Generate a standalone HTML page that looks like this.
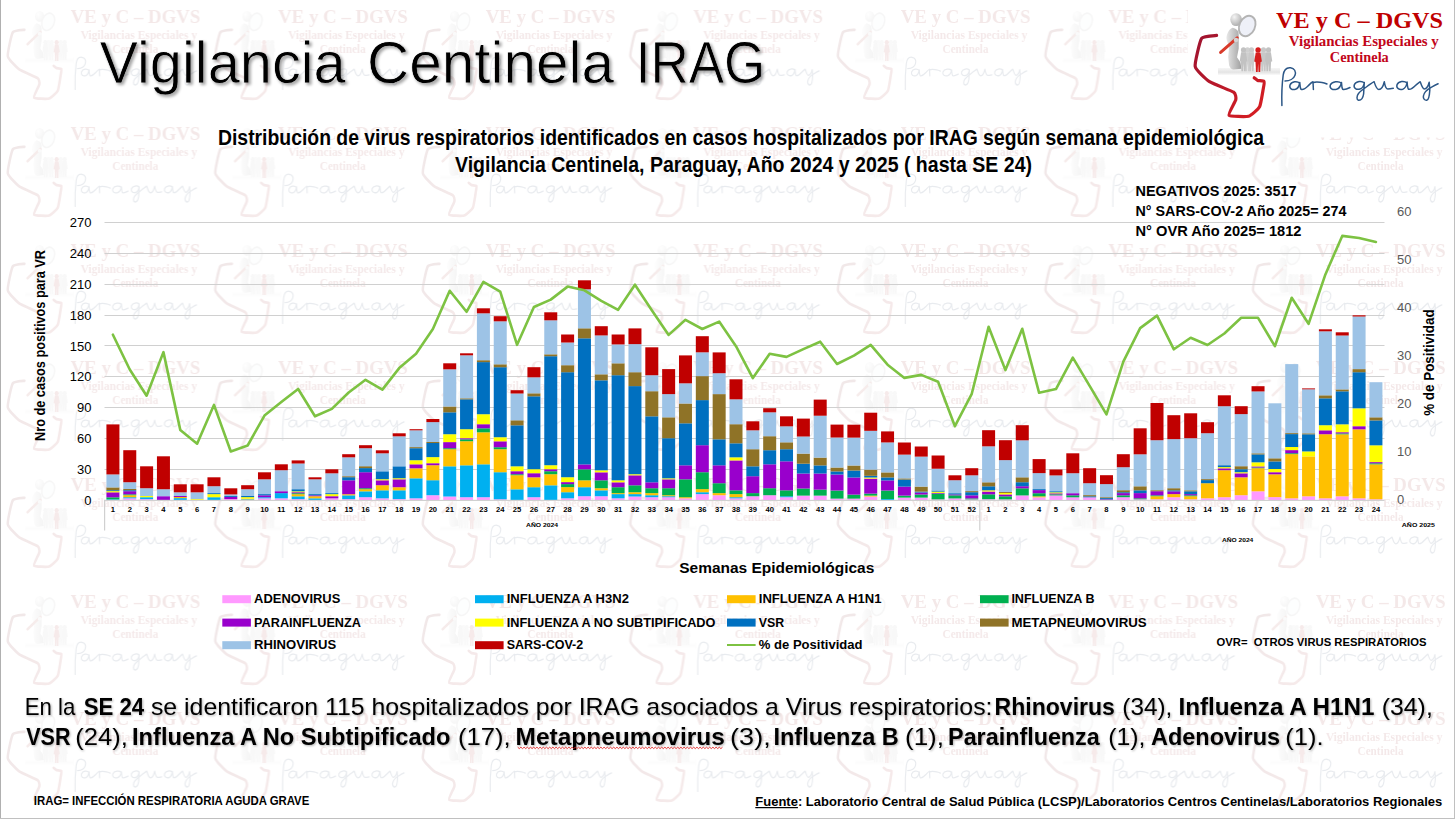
<!DOCTYPE html><html><head><meta charset="utf-8"><title>Vigilancia Centinela IRAG</title><style>
html,body{margin:0;padding:0;width:1455px;height:819px;overflow:hidden;background:#fff}
svg{position:absolute;left:0;top:0;display:block;font-family:"Liberation Sans",sans-serif}
</style></head><body>
<svg width="1455" height="819" viewBox="0 0 1455 819" font-family="Liberation Sans, sans-serif">
<defs>
<linearGradient id="mapg" x1="0" y1="0" x2="1" y2="1"><stop offset="0" stop-color="#9e1430"/><stop offset="1" stop-color="#d91e22"/></linearGradient>
<linearGradient id="figg" x1="0" y1="0" x2="1" y2="0"><stop offset="0" stop-color="#e8e8e8"/><stop offset="1" stop-color="#a0a0a0"/></linearGradient>
<radialGradient id="headg" cx="0.35" cy="0.3" r="0.8"><stop offset="0" stop-color="#f4f4f4"/><stop offset="1" stop-color="#a8a8a8"/></radialGradient>
<linearGradient id="gnd" x1="0" y1="0" x2="0" y2="1"><stop offset="0" stop-color="#f6f6f6"/><stop offset="0.6" stop-color="#e4e4e4"/><stop offset="1" stop-color="#fafafa"/></linearGradient>
<filter id="desat"><feColorMatrix type="saturate" values="0.55"/></filter>
<filter id="tsh" x="-5%" y="-20%" width="110%" height="150%"><feDropShadow dx="2" dy="2" stdDeviation="1.6" flood-color="#000" flood-opacity="0.35"/></filter>
<filter id="tshonly" x="-5%" y="-20%" width="110%" height="150%"><feGaussianBlur in="SourceAlpha" stdDeviation="1.6"/><feOffset dx="2" dy="2"/><feComponentTransfer><feFuncA type="linear" slope="0.35"/></feComponentTransfer></filter>
<filter id="psh" x="-2%" y="-20%" width="104%" height="150%"><feDropShadow dx="1" dy="1" stdDeviation="0.8" flood-color="#000" flood-opacity="0.3"/></filter>

<g id="logoart">
 <path d="M1216.6,35.4 C1215.4,35.6 1203.3,35.9 1201.6,38.4 C1199.9,40.9 1194.6,62.9 1195.2,66.4 C1195.8,69.9 1206.4,79.5 1209.5,81.6 C1212.6,83.7 1231.5,90.8 1233.6,92.2 C1235.7,93.6 1236.2,97.8 1235.8,99.6 C1235.4,101.4 1228.0,113.9 1229,115.2 C1230.0,116.5 1246.2,116.9 1248.6,116.2 C1251.0,115.5 1258.4,109.1 1259.6,106.8 C1260.8,104.5 1263.0,90.0 1263.4,88 C1263.8,86.0 1264.5,82.0 1264,81.4 C1263.5,80.8 1258.4,80.7 1257.6,80.4 C1256.8,80.1 1254.5,78.0 1254.2,77.8" fill="none" stroke="url(#mapg)" stroke-width="3.2" stroke-linejoin="round" stroke-linecap="round"/>
 <rect x="1218" y="68" width="62" height="7" fill="url(#gnd)"/>
 <path d="M1232.6,27.8 C1229.5,28.5 1227,33 1226.4,37.9 C1226.5,41 1228.5,44 1229.1,46.7 L1228.2,57.3 L1229.1,65.2 C1230,68 1231.5,69.6 1233.5,69.6 L1241.4,68.7 L1240.5,62.5 L1237,57.3 L1238.7,48.5 L1238.7,34.4 C1238.7,31 1237,29 1232.6,27.8 Z" fill="url(#figg)"/>
 <ellipse cx="1236.1" cy="19.6" rx="5.8" ry="6.4" fill="url(#headg)"/>
 <ellipse cx="1247.2" cy="26" rx="7.8" ry="10.6" transform="rotate(25 1247.2 26)" fill="#eef0f8" stroke="#b4b4b4" stroke-width="1.9"/>
 <path d="M1220.6,52.4 L1237.2,37.8" stroke="#d83a2a" stroke-width="3" stroke-linecap="round"/>
 <ellipse cx="1236" cy="40" rx="2.3" ry="2.2" fill="#d4d4d4"/>
 <circle cx="1247.5" cy="49.9" r="2.6" fill="#d0d0d0"/><path d="M1245.1,52.2 L1249.9,52.2 L1251.3,61.2 L1250.1,61.800000000000004 L1249.6,71.2 L1247.9,71.2 L1247.5,63.2 L1247.1,71.2 L1245.4,71.2 L1244.9,61.800000000000004 L1243.7,61.2 Z" fill="#d0d0d0"/><circle cx="1251.5" cy="49.9" r="2.6" fill="#cacaca"/><path d="M1249.1,52.2 L1253.9,52.2 L1255.3,61.2 L1254.1,61.800000000000004 L1253.6,71.2 L1251.9,71.2 L1251.5,63.2 L1251.1,71.2 L1249.4,71.2 L1248.9,61.800000000000004 L1247.7,61.2 Z" fill="#cacaca"/><circle cx="1263.5" cy="49.9" r="2.6" fill="#c8c8c8"/><path d="M1261.1,52.2 L1265.9,52.2 L1267.3,61.2 L1266.1,61.800000000000004 L1265.6,71.2 L1263.9,71.2 L1263.5,63.2 L1263.1,71.2 L1261.4,71.2 L1260.9,61.800000000000004 L1259.7,61.2 Z" fill="#c8c8c8"/><circle cx="1243.5" cy="49.9" r="2.6" fill="#c2c2c2"/><path d="M1241.1,52.2 L1245.9,52.2 L1247.3,61.2 L1246.1,61.800000000000004 L1245.6,71.2 L1243.9,71.2 L1243.5,63.2 L1243.1,71.2 L1241.4,71.2 L1240.9,61.800000000000004 L1239.7,61.2 Z" fill="#c2c2c2"/><circle cx="1268.5" cy="49.9" r="2.6" fill="#c2c2c2"/><path d="M1266.1,52.2 L1270.9,52.2 L1272.3,61.2 L1271.1,61.800000000000004 L1270.6,71.2 L1268.9,71.2 L1268.5,63.2 L1268.1,71.2 L1266.4,71.2 L1265.9,61.800000000000004 L1264.7,61.2 Z" fill="#c2c2c2"/><circle cx="1258.1" cy="50.0" r="2.7" fill="#d61e1e"/><path d="M1255.7,52.4 L1260.5,52.4 L1261.9,61.4 L1260.7,62.0 L1260.2,72 L1258.5,72 L1258.1,63.4 L1257.7,72 L1256.0,72 L1255.5,62.0 L1254.3,61.4 Z" fill="#d61e1e"/>
 <text x="1276" y="27.5" font-family="Liberation Serif" font-weight="bold" font-size="23.3" fill="#C00000" textLength="167" lengthAdjust="spacingAndGlyphs">VE y C – DGVS</text>
 <text x="1288.8" y="45.7" font-family="Liberation Serif" font-weight="bold" font-size="14.2" fill="#C2061A" textLength="150" lengthAdjust="spacingAndGlyphs">Vigilancias Especiales y</text>
 <text x="1329.8" y="62.1" font-family="Liberation Serif" font-weight="bold" font-size="14.2" fill="#C2061A" textLength="59" lengthAdjust="spacingAndGlyphs">Centinela</text>
 <path d="M1281.9,105.5 C1281.6,96 1282,84 1283.2,75 C1284,69.5 1287,67.3 1290.5,67.7 C1294.5,68.2 1296.2,71.5 1295,75.2 C1293.8,78.8 1289.5,81 1285,81
  M1299.6,83.2 C1297.5,80.8 1291.5,81.2 1290,85 C1289,88.5 1292,90.3 1295.5,89.3 C1297.8,88.5 1299.2,86 1299.8,82.5 C1300,85 1300,88 1301,89.3 C1303,90 1306,88 1308,86 C1310,84 1311.5,82.3 1313,81.8 L1313.4,89.5
  M1313.2,82.6 C1315.5,81.5 1319,82.2 1322,82.4 C1324,82.5 1326,83.5 1327,84
  M1341.4,83.2 C1339,80.8 1332,81.2 1330.3,85 C1329.3,88.5 1332.5,90.3 1336.5,89.3 C1339,88.5 1340.8,86 1341.5,82.5 C1341.7,85 1341.7,88 1342.7,89.3 C1345,90 1348,88.5 1350,87.5
  M1364.3,83 C1362,80.6 1356,81 1354.3,84.8 C1353.3,88.3 1356.5,90 1360,89 C1362.3,88.3 1363.8,86 1364.3,82.5 L1363.6,94 C1363,98 1361,100.5 1358.5,100.3 C1356.5,100 1356.5,96 1358.5,93.5 C1361,90.5 1364,88.5 1367,86.5 C1370,84.5 1372.5,82.5 1374.1,81.7
  C1375.5,86 1376.5,89.5 1378.9,89.5 C1381.5,89.5 1383.5,85 1384.3,81.7 C1385,85.5 1385.5,88.9 1387.8,88.9 C1389.5,88.9 1391.5,88.6 1393.3,88.3
  M1407,83 C1404.5,80.6 1398.5,81 1397,84.8 C1396,88.3 1399.2,90.1 1402.8,89.2 C1405,88.5 1406.5,86 1407.1,82 C1407.3,85 1407.5,88 1408.5,89.2 C1410.5,90 1414,87 1416,85 C1418,83.3 1419.5,82 1420.2,81.7 C1421.5,85.5 1422.5,88.9 1424.3,88.9 C1426.5,88.9 1428.5,85 1429.2,82.3 L1429.8,90.1 C1429.5,95 1428.5,100 1426.8,100.3 C1424.5,100.5 1423,98.5 1423.4,96 C1424,92.5 1428,89 1431.6,87.1 C1434,85.8 1436.5,84.5 1438.1,83.8"
  fill="none" stroke="#2c5787" stroke-width="1.5" stroke-linecap="round" stroke-linejoin="round"/>
</g>
<pattern id="wm" x="0" y="0" width="207.55" height="117" patternUnits="userSpaceOnUse">
<g opacity="0.12" filter="url(#desat)"><g transform="translate(-920.9,-0.275) scale(0.777,0.85)"><use href="#logoart"/></g></g>
</pattern>
</defs>
<rect x="0" y="0" width="1455" height="819" fill="url(#wm)"/>
<rect x="1188" y="0" width="265" height="137.5" fill="#fff"/>
<use href="#logoart"/>
<rect x="0" y="0" width="1" height="819" fill="#b0b0b0"/>
<rect x="1454" y="0" width="1" height="819" fill="#c0c0c0"/>
<rect x="0" y="818" width="1455" height="1" fill="#c0c0c0"/>
<mask id="tmask" maskUnits="userSpaceOnUse" x="0" y="0" width="1455" height="819"><text x="99.54" y="82.6" font-size="60" textLength="246.21" lengthAdjust="spacingAndGlyphs" fill="#fff" stroke="#000" stroke-width="0.8">Vigilancia</text><text x="367.08" y="82.6" font-size="60" textLength="246.95" lengthAdjust="spacingAndGlyphs" fill="#fff" stroke="#000" stroke-width="0.8">Centinela</text><text x="635.71" y="82.6" font-size="60" textLength="129.44" lengthAdjust="spacingAndGlyphs" fill="#fff" stroke="#000" stroke-width="0.8">IRAG</text></mask>
<g filter="url(#tshonly)"><text x="99.54" y="82.6" font-size="60" textLength="246.21" lengthAdjust="spacingAndGlyphs" fill="#000">Vigilancia</text><text x="367.08" y="82.6" font-size="60" textLength="246.95" lengthAdjust="spacingAndGlyphs" fill="#000">Centinela</text><text x="635.71" y="82.6" font-size="60" textLength="129.44" lengthAdjust="spacingAndGlyphs" fill="#000">IRAG</text></g>
<g mask="url(#tmask)"><text x="99.54" y="82.6" font-size="60" textLength="246.21" lengthAdjust="spacingAndGlyphs" fill="#000">Vigilancia</text><text x="367.08" y="82.6" font-size="60" textLength="246.95" lengthAdjust="spacingAndGlyphs" fill="#000">Centinela</text><text x="635.71" y="82.6" font-size="60" textLength="129.44" lengthAdjust="spacingAndGlyphs" fill="#000">IRAG</text></g>
<text x="218" y="144.8" font-size="21.5" font-weight="bold" fill="#000" textLength="1046" lengthAdjust="spacingAndGlyphs">Distribución de virus respiratorios identificados en casos hospitalizados por IRAG según semana epidemiológica</text>
<text x="455" y="172.4" font-size="21.5" font-weight="bold" fill="#000" textLength="577" lengthAdjust="spacingAndGlyphs">Vigilancia Centinela, Paraguay, Año 2024 y 2025 ( hasta SE 24)</text>
<text x="1135.5" y="196.4" font-size="15.5" font-weight="bold" fill="#000" textLength="161" lengthAdjust="spacingAndGlyphs">NEGATIVOS 2025: 3517</text>
<text x="1135.5" y="216" font-size="15.5" font-weight="bold" fill="#000" textLength="211" lengthAdjust="spacingAndGlyphs">N° SARS-COV-2 Año 2025= 274</text>
<text x="1135.5" y="236" font-size="15.5" font-weight="bold" fill="#000" textLength="166" lengthAdjust="spacingAndGlyphs">N° OVR Año 2025= 1812</text>
<rect x="104.5" y="469" width="1280" height="1" fill="#d0d0d0"/>
<rect x="104.5" y="438" width="1280" height="1" fill="#d0d0d0"/>
<rect x="104.5" y="407" width="1280" height="1" fill="#d0d0d0"/>
<rect x="104.5" y="376" width="1280" height="1" fill="#d0d0d0"/>
<rect x="104.5" y="345" width="1280" height="1" fill="#d0d0d0"/>
<rect x="104.5" y="315" width="1280" height="1" fill="#d0d0d0"/>
<rect x="104.5" y="284" width="1280" height="1" fill="#d0d0d0"/>
<rect x="104.5" y="253" width="1280" height="1" fill="#d0d0d0"/>
<rect x="104.5" y="222" width="1280" height="1" fill="#d0d0d0"/>
<text x="91.5" y="504.7" font-size="13" text-anchor="end" fill="#000">0</text>
<text x="91.5" y="473.9" font-size="13" text-anchor="end" fill="#000">30</text>
<text x="91.5" y="443.0" font-size="13" text-anchor="end" fill="#000">60</text>
<text x="91.5" y="412.2" font-size="13" text-anchor="end" fill="#000">90</text>
<text x="91.5" y="381.3" font-size="13" text-anchor="end" fill="#000">120</text>
<text x="91.5" y="350.5" font-size="13" text-anchor="end" fill="#000">150</text>
<text x="91.5" y="319.6" font-size="13" text-anchor="end" fill="#000">180</text>
<text x="91.5" y="288.8" font-size="13" text-anchor="end" fill="#000">210</text>
<text x="91.5" y="257.9" font-size="13" text-anchor="end" fill="#000">240</text>
<text x="91.5" y="227.1" font-size="13" text-anchor="end" fill="#000">270</text>
<text x="1397" y="504.0" font-size="13" fill="#595959">0</text>
<text x="1397" y="456.0" font-size="13" fill="#595959">10</text>
<text x="1397" y="408.0" font-size="13" fill="#595959">20</text>
<text x="1397" y="360.0" font-size="13" fill="#595959">30</text>
<text x="1397" y="312.0" font-size="13" fill="#595959">40</text>
<text x="1397" y="264.0" font-size="13" fill="#595959">50</text>
<text x="1397" y="216.0" font-size="13" fill="#595959">60</text>
<rect x="106.42" y="499.30" width="13.0" height="1.02" fill="#00B0F0"/>
<rect x="106.42" y="497.30" width="13.0" height="2.02" fill="#00B050"/>
<rect x="106.42" y="492.30" width="13.0" height="5.02" fill="#9900CC"/>
<rect x="106.42" y="491.10" width="13.0" height="1.22" fill="#FFFF00"/>
<rect x="106.42" y="490.20" width="13.0" height="0.92" fill="#0070C0"/>
<rect x="106.42" y="487.40" width="13.0" height="2.82" fill="#8F7327"/>
<rect x="106.42" y="474.40" width="13.0" height="13.02" fill="#9DC3E6"/>
<rect x="106.42" y="424.40" width="13.0" height="50.02" fill="#C00000"/>
<rect x="123.26" y="498.30" width="13.0" height="2.02" fill="#FF99FF"/>
<rect x="123.26" y="497.20" width="13.0" height="1.12" fill="#00B0F0"/>
<rect x="123.26" y="495.20" width="13.0" height="2.02" fill="#FFC000"/>
<rect x="123.26" y="494.30" width="13.0" height="0.92" fill="#00B050"/>
<rect x="123.26" y="491.20" width="13.0" height="3.12" fill="#9900CC"/>
<rect x="123.26" y="490.20" width="13.0" height="1.02" fill="#0070C0"/>
<rect x="123.26" y="489.00" width="13.0" height="1.22" fill="#8F7327"/>
<rect x="123.26" y="482.20" width="13.0" height="6.82" fill="#9DC3E6"/>
<rect x="123.26" y="450.20" width="13.0" height="32.02" fill="#C00000"/>
<rect x="140.10" y="499.10" width="13.0" height="1.22" fill="#FF99FF"/>
<rect x="140.10" y="497.20" width="13.0" height="1.92" fill="#00B0F0"/>
<rect x="140.10" y="496.00" width="13.0" height="1.22" fill="#FFFF00"/>
<rect x="140.10" y="488.20" width="13.0" height="7.82" fill="#9DC3E6"/>
<rect x="140.10" y="466.30" width="13.0" height="21.92" fill="#C00000"/>
<rect x="156.94" y="496.20" width="13.0" height="4.12" fill="#9900CC"/>
<rect x="156.94" y="489.20" width="13.0" height="7.02" fill="#9DC3E6"/>
<rect x="156.94" y="456.30" width="13.0" height="32.92" fill="#C00000"/>
<rect x="173.78" y="498.10" width="13.0" height="2.22" fill="#00B0F0"/>
<rect x="173.78" y="497.00" width="13.0" height="1.12" fill="#FFC000"/>
<rect x="173.78" y="496.00" width="13.0" height="1.02" fill="#9900CC"/>
<rect x="173.78" y="492.30" width="13.0" height="3.72" fill="#9DC3E6"/>
<rect x="173.78" y="484.30" width="13.0" height="8.02" fill="#C00000"/>
<rect x="190.62" y="499.10" width="13.0" height="1.22" fill="#FFFF00"/>
<rect x="190.62" y="492.30" width="13.0" height="6.82" fill="#9DC3E6"/>
<rect x="190.62" y="484.30" width="13.0" height="8.02" fill="#C00000"/>
<rect x="207.46" y="497.20" width="13.0" height="3.12" fill="#00B0F0"/>
<rect x="207.46" y="494.10" width="13.0" height="3.12" fill="#FFFF00"/>
<rect x="207.46" y="493.10" width="13.0" height="1.02" fill="#0070C0"/>
<rect x="207.46" y="486.20" width="13.0" height="6.92" fill="#9DC3E6"/>
<rect x="207.46" y="477.30" width="13.0" height="8.92" fill="#C00000"/>
<rect x="224.30" y="499.10" width="13.0" height="1.22" fill="#FF99FF"/>
<rect x="224.30" y="496.90" width="13.0" height="2.22" fill="#9900CC"/>
<rect x="224.30" y="496.00" width="13.0" height="0.92" fill="#0070C0"/>
<rect x="224.30" y="494.40" width="13.0" height="1.62" fill="#9DC3E6"/>
<rect x="224.30" y="488.30" width="13.0" height="6.12" fill="#C00000"/>
<rect x="241.14" y="499.30" width="13.0" height="1.02" fill="#00B0F0"/>
<rect x="241.14" y="498.60" width="13.0" height="0.72" fill="#FFC000"/>
<rect x="241.14" y="497.10" width="13.0" height="1.52" fill="#FFFF00"/>
<rect x="241.14" y="496.00" width="13.0" height="1.12" fill="#0070C0"/>
<rect x="241.14" y="489.20" width="13.0" height="6.82" fill="#9DC3E6"/>
<rect x="241.14" y="485.20" width="13.0" height="4.02" fill="#C00000"/>
<rect x="257.98" y="498.30" width="13.0" height="2.02" fill="#FF99FF"/>
<rect x="257.98" y="497.20" width="13.0" height="1.12" fill="#00B0F0"/>
<rect x="257.98" y="495.30" width="13.0" height="1.92" fill="#9900CC"/>
<rect x="257.98" y="494.10" width="13.0" height="1.22" fill="#0070C0"/>
<rect x="257.98" y="479.30" width="13.0" height="14.82" fill="#9DC3E6"/>
<rect x="257.98" y="472.30" width="13.0" height="7.02" fill="#C00000"/>
<rect x="274.82" y="498.30" width="13.0" height="2.02" fill="#FF99FF"/>
<rect x="274.82" y="493.10" width="13.0" height="5.22" fill="#00B0F0"/>
<rect x="274.82" y="491.20" width="13.0" height="1.92" fill="#9900CC"/>
<rect x="274.82" y="470.20" width="13.0" height="21.02" fill="#9DC3E6"/>
<rect x="274.82" y="464.30" width="13.0" height="5.92" fill="#C00000"/>
<rect x="291.66" y="499.10" width="13.0" height="1.22" fill="#FF99FF"/>
<rect x="291.66" y="496.30" width="13.0" height="2.82" fill="#00B0F0"/>
<rect x="291.66" y="494.20" width="13.0" height="2.12" fill="#FFC000"/>
<rect x="291.66" y="493.20" width="13.0" height="1.02" fill="#00B050"/>
<rect x="291.66" y="492.20" width="13.0" height="1.02" fill="#9900CC"/>
<rect x="291.66" y="491.30" width="13.0" height="0.92" fill="#FFFF00"/>
<rect x="291.66" y="489.20" width="13.0" height="2.12" fill="#0070C0"/>
<rect x="291.66" y="463.50" width="13.0" height="25.72" fill="#9DC3E6"/>
<rect x="291.66" y="460.40" width="13.0" height="3.12" fill="#C00000"/>
<rect x="308.50" y="498.30" width="13.0" height="2.02" fill="#00B0F0"/>
<rect x="308.50" y="496.20" width="13.0" height="2.12" fill="#FFC000"/>
<rect x="308.50" y="495.30" width="13.0" height="0.92" fill="#9900CC"/>
<rect x="308.50" y="494.10" width="13.0" height="1.22" fill="#0070C0"/>
<rect x="308.50" y="479.30" width="13.0" height="14.82" fill="#9DC3E6"/>
<rect x="308.50" y="477.30" width="13.0" height="2.02" fill="#C00000"/>
<rect x="325.34" y="498.30" width="13.0" height="2.02" fill="#FF99FF"/>
<rect x="325.34" y="496.20" width="13.0" height="2.12" fill="#9900CC"/>
<rect x="325.34" y="494.10" width="13.0" height="2.12" fill="#FFFF00"/>
<rect x="325.34" y="493.10" width="13.0" height="1.02" fill="#0070C0"/>
<rect x="325.34" y="473.30" width="13.0" height="19.82" fill="#9DC3E6"/>
<rect x="325.34" y="469.30" width="13.0" height="4.02" fill="#C00000"/>
<rect x="342.18" y="499.10" width="13.0" height="1.22" fill="#FF99FF"/>
<rect x="342.18" y="495.30" width="13.0" height="3.82" fill="#00B0F0"/>
<rect x="342.18" y="494.20" width="13.0" height="1.12" fill="#FFC000"/>
<rect x="342.18" y="480.30" width="13.0" height="13.92" fill="#9900CC"/>
<rect x="342.18" y="477.20" width="13.0" height="3.12" fill="#0070C0"/>
<rect x="342.18" y="476.20" width="13.0" height="1.02" fill="#8F7327"/>
<rect x="342.18" y="457.30" width="13.0" height="18.92" fill="#9DC3E6"/>
<rect x="342.18" y="454.20" width="13.0" height="3.12" fill="#C00000"/>
<rect x="359.02" y="497.20" width="13.0" height="3.12" fill="#FF99FF"/>
<rect x="359.02" y="491.30" width="13.0" height="5.92" fill="#00B0F0"/>
<rect x="359.02" y="489.20" width="13.0" height="2.12" fill="#FFC000"/>
<rect x="359.02" y="488.20" width="13.0" height="1.02" fill="#00B050"/>
<rect x="359.02" y="472.20" width="13.0" height="16.02" fill="#9900CC"/>
<rect x="359.02" y="468.10" width="13.0" height="4.12" fill="#0070C0"/>
<rect x="359.02" y="466.20" width="13.0" height="1.92" fill="#8F7327"/>
<rect x="359.02" y="448.20" width="13.0" height="18.02" fill="#9DC3E6"/>
<rect x="359.02" y="445.20" width="13.0" height="3.02" fill="#C00000"/>
<rect x="375.86" y="498.30" width="13.0" height="2.02" fill="#FF99FF"/>
<rect x="375.86" y="490.30" width="13.0" height="8.02" fill="#00B0F0"/>
<rect x="375.86" y="485.20" width="13.0" height="5.12" fill="#FFC000"/>
<rect x="375.86" y="480.30" width="13.0" height="4.92" fill="#9900CC"/>
<rect x="375.86" y="479.20" width="13.0" height="1.12" fill="#FFFF00"/>
<rect x="375.86" y="471.30" width="13.0" height="7.92" fill="#0070C0"/>
<rect x="375.86" y="453.30" width="13.0" height="18.02" fill="#9DC3E6"/>
<rect x="375.86" y="450.30" width="13.0" height="3.02" fill="#C00000"/>
<rect x="392.70" y="499.10" width="13.0" height="1.22" fill="#FF99FF"/>
<rect x="392.70" y="490.30" width="13.0" height="8.82" fill="#00B0F0"/>
<rect x="392.70" y="487.20" width="13.0" height="3.12" fill="#FFC000"/>
<rect x="392.70" y="479.30" width="13.0" height="7.92" fill="#9900CC"/>
<rect x="392.70" y="478.20" width="13.0" height="1.12" fill="#FFFF00"/>
<rect x="392.70" y="466.30" width="13.0" height="11.92" fill="#0070C0"/>
<rect x="392.70" y="436.30" width="13.0" height="30.02" fill="#9DC3E6"/>
<rect x="392.70" y="433.30" width="13.0" height="3.02" fill="#C00000"/>
<rect x="409.54" y="498.30" width="13.0" height="2.02" fill="#FF99FF"/>
<rect x="409.54" y="478.30" width="13.0" height="20.02" fill="#00B0F0"/>
<rect x="409.54" y="468.30" width="13.0" height="10.02" fill="#FFC000"/>
<rect x="409.54" y="464.30" width="13.0" height="4.02" fill="#9900CC"/>
<rect x="409.54" y="460.20" width="13.0" height="4.12" fill="#FFFF00"/>
<rect x="409.54" y="448.20" width="13.0" height="12.02" fill="#0070C0"/>
<rect x="409.54" y="447.10" width="13.0" height="1.12" fill="#8F7327"/>
<rect x="409.54" y="430.30" width="13.0" height="16.82" fill="#9DC3E6"/>
<rect x="409.54" y="429.20" width="13.0" height="1.12" fill="#C00000"/>
<rect x="426.38" y="495.20" width="13.0" height="5.12" fill="#FF99FF"/>
<rect x="426.38" y="480.20" width="13.0" height="15.02" fill="#00B0F0"/>
<rect x="426.38" y="465.20" width="13.0" height="15.02" fill="#FFC000"/>
<rect x="426.38" y="463.20" width="13.0" height="2.02" fill="#9900CC"/>
<rect x="426.38" y="457.10" width="13.0" height="6.12" fill="#FFFF00"/>
<rect x="426.38" y="443.00" width="13.0" height="14.12" fill="#0070C0"/>
<rect x="426.38" y="442.00" width="13.0" height="1.02" fill="#8F7327"/>
<rect x="426.38" y="422.10" width="13.0" height="19.92" fill="#9DC3E6"/>
<rect x="426.38" y="419.00" width="13.0" height="3.12" fill="#C00000"/>
<rect x="443.22" y="496.50" width="13.0" height="3.82" fill="#FF99FF"/>
<rect x="443.22" y="466.30" width="13.0" height="30.22" fill="#00B0F0"/>
<rect x="443.22" y="449.20" width="13.0" height="17.12" fill="#FFC000"/>
<rect x="443.22" y="448.20" width="13.0" height="1.02" fill="#00B050"/>
<rect x="443.22" y="442.10" width="13.0" height="6.12" fill="#9900CC"/>
<rect x="443.22" y="434.20" width="13.0" height="7.92" fill="#FFFF00"/>
<rect x="443.22" y="412.30" width="13.0" height="21.92" fill="#0070C0"/>
<rect x="443.22" y="406.50" width="13.0" height="5.82" fill="#8F7327"/>
<rect x="443.22" y="369.30" width="13.0" height="37.22" fill="#9DC3E6"/>
<rect x="443.22" y="363.30" width="13.0" height="6.02" fill="#C00000"/>
<rect x="460.06" y="497.20" width="13.0" height="3.12" fill="#FF99FF"/>
<rect x="460.06" y="465.30" width="13.0" height="31.92" fill="#00B0F0"/>
<rect x="460.06" y="441.20" width="13.0" height="24.12" fill="#FFC000"/>
<rect x="460.06" y="439.30" width="13.0" height="1.92" fill="#00B050"/>
<rect x="460.06" y="438.20" width="13.0" height="1.12" fill="#9900CC"/>
<rect x="460.06" y="429.20" width="13.0" height="9.02" fill="#FFFF00"/>
<rect x="460.06" y="399.30" width="13.0" height="29.92" fill="#0070C0"/>
<rect x="460.06" y="398.30" width="13.0" height="1.02" fill="#8F7327"/>
<rect x="460.06" y="355.30" width="13.0" height="43.02" fill="#9DC3E6"/>
<rect x="460.06" y="353.30" width="13.0" height="2.02" fill="#C00000"/>
<rect x="476.90" y="497.20" width="13.0" height="3.12" fill="#FF99FF"/>
<rect x="476.90" y="464.30" width="13.0" height="32.92" fill="#00B0F0"/>
<rect x="476.90" y="432.30" width="13.0" height="32.02" fill="#FFC000"/>
<rect x="476.90" y="428.30" width="13.0" height="4.02" fill="#00B050"/>
<rect x="476.90" y="424.20" width="13.0" height="4.12" fill="#9900CC"/>
<rect x="476.90" y="414.20" width="13.0" height="10.02" fill="#FFFF00"/>
<rect x="476.90" y="362.10" width="13.0" height="52.12" fill="#0070C0"/>
<rect x="476.90" y="360.20" width="13.0" height="1.92" fill="#8F7327"/>
<rect x="476.90" y="313.30" width="13.0" height="46.92" fill="#9DC3E6"/>
<rect x="476.90" y="308.30" width="13.0" height="5.02" fill="#C00000"/>
<rect x="493.74" y="499.30" width="13.0" height="1.02" fill="#FF99FF"/>
<rect x="493.74" y="472.20" width="13.0" height="27.12" fill="#00B0F0"/>
<rect x="493.74" y="449.20" width="13.0" height="23.02" fill="#FFC000"/>
<rect x="493.74" y="447.20" width="13.0" height="2.02" fill="#00B050"/>
<rect x="493.74" y="441.30" width="13.0" height="5.92" fill="#9900CC"/>
<rect x="493.74" y="437.20" width="13.0" height="4.12" fill="#FFFF00"/>
<rect x="493.74" y="367.20" width="13.0" height="70.02" fill="#0070C0"/>
<rect x="493.74" y="364.30" width="13.0" height="2.92" fill="#8F7327"/>
<rect x="493.74" y="321.30" width="13.0" height="43.02" fill="#9DC3E6"/>
<rect x="493.74" y="316.20" width="13.0" height="5.12" fill="#C00000"/>
<rect x="510.58" y="489.30" width="13.0" height="11.02" fill="#00B0F0"/>
<rect x="510.58" y="475.20" width="13.0" height="14.12" fill="#FFC000"/>
<rect x="510.58" y="474.20" width="13.0" height="1.02" fill="#00B050"/>
<rect x="510.58" y="471.20" width="13.0" height="3.02" fill="#9900CC"/>
<rect x="510.58" y="466.30" width="13.0" height="4.92" fill="#FFFF00"/>
<rect x="510.58" y="425.30" width="13.0" height="41.02" fill="#0070C0"/>
<rect x="510.58" y="420.30" width="13.0" height="5.02" fill="#8F7327"/>
<rect x="510.58" y="393.50" width="13.0" height="26.82" fill="#9DC3E6"/>
<rect x="510.58" y="390.20" width="13.0" height="3.32" fill="#C00000"/>
<rect x="527.42" y="497.20" width="13.0" height="3.12" fill="#FF99FF"/>
<rect x="527.42" y="487.20" width="13.0" height="10.02" fill="#00B0F0"/>
<rect x="527.42" y="477.30" width="13.0" height="9.92" fill="#FFC000"/>
<rect x="527.42" y="473.20" width="13.0" height="4.12" fill="#9900CC"/>
<rect x="527.42" y="469.20" width="13.0" height="4.02" fill="#FFFF00"/>
<rect x="527.42" y="396.30" width="13.0" height="72.92" fill="#0070C0"/>
<rect x="527.42" y="393.30" width="13.0" height="3.02" fill="#8F7327"/>
<rect x="527.42" y="377.30" width="13.0" height="16.02" fill="#9DC3E6"/>
<rect x="527.42" y="367.20" width="13.0" height="10.12" fill="#C00000"/>
<rect x="544.26" y="485.30" width="13.0" height="15.02" fill="#00B0F0"/>
<rect x="544.26" y="474.20" width="13.0" height="11.12" fill="#FFC000"/>
<rect x="544.26" y="471.20" width="13.0" height="3.02" fill="#00B050"/>
<rect x="544.26" y="469.20" width="13.0" height="2.02" fill="#9900CC"/>
<rect x="544.26" y="465.20" width="13.0" height="4.02" fill="#FFFF00"/>
<rect x="544.26" y="356.20" width="13.0" height="109.02" fill="#0070C0"/>
<rect x="544.26" y="354.30" width="13.0" height="1.92" fill="#8F7327"/>
<rect x="544.26" y="320.30" width="13.0" height="34.02" fill="#9DC3E6"/>
<rect x="544.26" y="312.30" width="13.0" height="8.02" fill="#C00000"/>
<rect x="561.10" y="498.30" width="13.0" height="2.02" fill="#FF99FF"/>
<rect x="561.10" y="492.20" width="13.0" height="6.12" fill="#00B0F0"/>
<rect x="561.10" y="487.10" width="13.0" height="5.12" fill="#FFC000"/>
<rect x="561.10" y="484.10" width="13.0" height="3.02" fill="#00B050"/>
<rect x="561.10" y="482.10" width="13.0" height="2.02" fill="#9900CC"/>
<rect x="561.10" y="477.20" width="13.0" height="4.92" fill="#FFFF00"/>
<rect x="561.10" y="372.20" width="13.0" height="105.02" fill="#0070C0"/>
<rect x="561.10" y="365.20" width="13.0" height="7.02" fill="#8F7327"/>
<rect x="561.10" y="342.50" width="13.0" height="22.72" fill="#9DC3E6"/>
<rect x="561.10" y="334.50" width="13.0" height="8.02" fill="#C00000"/>
<rect x="577.94" y="496.20" width="13.0" height="4.12" fill="#FF99FF"/>
<rect x="577.94" y="487.20" width="13.0" height="9.02" fill="#00B0F0"/>
<rect x="577.94" y="480.30" width="13.0" height="6.92" fill="#FFC000"/>
<rect x="577.94" y="469.30" width="13.0" height="11.02" fill="#00B050"/>
<rect x="577.94" y="464.40" width="13.0" height="4.92" fill="#9900CC"/>
<rect x="577.94" y="338.30" width="13.0" height="126.12" fill="#0070C0"/>
<rect x="577.94" y="328.30" width="13.0" height="10.02" fill="#8F7327"/>
<rect x="577.94" y="289.30" width="13.0" height="39.02" fill="#9DC3E6"/>
<rect x="577.94" y="280.30" width="13.0" height="9.02" fill="#C00000"/>
<rect x="594.78" y="496.20" width="13.0" height="4.12" fill="#FF99FF"/>
<rect x="594.78" y="490.30" width="13.0" height="5.92" fill="#00B0F0"/>
<rect x="594.78" y="488.20" width="13.0" height="2.12" fill="#FFC000"/>
<rect x="594.78" y="480.30" width="13.0" height="7.92" fill="#00B050"/>
<rect x="594.78" y="472.30" width="13.0" height="8.02" fill="#9900CC"/>
<rect x="594.78" y="470.30" width="13.0" height="2.02" fill="#FFFF00"/>
<rect x="594.78" y="380.30" width="13.0" height="90.02" fill="#0070C0"/>
<rect x="594.78" y="374.30" width="13.0" height="6.02" fill="#8F7327"/>
<rect x="594.78" y="335.40" width="13.0" height="38.92" fill="#9DC3E6"/>
<rect x="594.78" y="326.20" width="13.0" height="9.22" fill="#C00000"/>
<rect x="611.62" y="498.30" width="13.0" height="2.02" fill="#FF99FF"/>
<rect x="611.62" y="494.10" width="13.0" height="4.22" fill="#00B0F0"/>
<rect x="611.62" y="493.10" width="13.0" height="1.02" fill="#FFC000"/>
<rect x="611.62" y="487.20" width="13.0" height="5.92" fill="#00B050"/>
<rect x="611.62" y="482.30" width="13.0" height="4.92" fill="#9900CC"/>
<rect x="611.62" y="480.30" width="13.0" height="2.02" fill="#FFFF00"/>
<rect x="611.62" y="375.20" width="13.0" height="105.12" fill="#0070C0"/>
<rect x="611.62" y="363.30" width="13.0" height="11.92" fill="#8F7327"/>
<rect x="611.62" y="344.40" width="13.0" height="18.92" fill="#9DC3E6"/>
<rect x="611.62" y="334.50" width="13.0" height="9.92" fill="#C00000"/>
<rect x="628.46" y="496.50" width="13.0" height="3.82" fill="#FF99FF"/>
<rect x="628.46" y="494.10" width="13.0" height="2.42" fill="#00B0F0"/>
<rect x="628.46" y="492.20" width="13.0" height="1.92" fill="#FFC000"/>
<rect x="628.46" y="485.30" width="13.0" height="6.92" fill="#00B050"/>
<rect x="628.46" y="475.30" width="13.0" height="10.02" fill="#9900CC"/>
<rect x="628.46" y="474.20" width="13.0" height="1.12" fill="#FFFF00"/>
<rect x="628.46" y="386.10" width="13.0" height="88.12" fill="#0070C0"/>
<rect x="628.46" y="372.20" width="13.0" height="13.92" fill="#8F7327"/>
<rect x="628.46" y="344.10" width="13.0" height="28.12" fill="#9DC3E6"/>
<rect x="628.46" y="328.40" width="13.0" height="15.72" fill="#C00000"/>
<rect x="645.30" y="497.20" width="13.0" height="3.12" fill="#FF99FF"/>
<rect x="645.30" y="495.20" width="13.0" height="2.02" fill="#00B0F0"/>
<rect x="645.30" y="493.10" width="13.0" height="2.12" fill="#FFC000"/>
<rect x="645.30" y="488.20" width="13.0" height="4.92" fill="#00B050"/>
<rect x="645.30" y="482.30" width="13.0" height="5.92" fill="#9900CC"/>
<rect x="645.30" y="416.30" width="13.0" height="66.02" fill="#0070C0"/>
<rect x="645.30" y="391.20" width="13.0" height="25.12" fill="#8F7327"/>
<rect x="645.30" y="375.20" width="13.0" height="16.02" fill="#9DC3E6"/>
<rect x="645.30" y="347.30" width="13.0" height="27.92" fill="#C00000"/>
<rect x="662.14" y="497.20" width="13.0" height="3.12" fill="#FF99FF"/>
<rect x="662.14" y="496.20" width="13.0" height="1.02" fill="#00B0F0"/>
<rect x="662.14" y="495.20" width="13.0" height="1.02" fill="#FFC000"/>
<rect x="662.14" y="488.20" width="13.0" height="7.02" fill="#00B050"/>
<rect x="662.14" y="479.30" width="13.0" height="8.92" fill="#9900CC"/>
<rect x="662.14" y="478.30" width="13.0" height="1.02" fill="#FFFF00"/>
<rect x="662.14" y="438.20" width="13.0" height="40.12" fill="#0070C0"/>
<rect x="662.14" y="417.30" width="13.0" height="20.92" fill="#8F7327"/>
<rect x="662.14" y="394.10" width="13.0" height="23.22" fill="#9DC3E6"/>
<rect x="662.14" y="369.10" width="13.0" height="25.02" fill="#C00000"/>
<rect x="678.98" y="498.30" width="13.0" height="2.02" fill="#FF99FF"/>
<rect x="678.98" y="497.20" width="13.0" height="1.12" fill="#FFC000"/>
<rect x="678.98" y="479.30" width="13.0" height="17.92" fill="#00B050"/>
<rect x="678.98" y="465.30" width="13.0" height="14.02" fill="#9900CC"/>
<rect x="678.98" y="423.30" width="13.0" height="42.02" fill="#0070C0"/>
<rect x="678.98" y="403.50" width="13.0" height="19.82" fill="#8F7327"/>
<rect x="678.98" y="383.30" width="13.0" height="20.22" fill="#9DC3E6"/>
<rect x="678.98" y="355.40" width="13.0" height="27.92" fill="#C00000"/>
<rect x="695.82" y="494.10" width="13.0" height="6.22" fill="#FF99FF"/>
<rect x="695.82" y="492.20" width="13.0" height="1.92" fill="#00B0F0"/>
<rect x="695.82" y="489.10" width="13.0" height="3.12" fill="#FFC000"/>
<rect x="695.82" y="472.20" width="13.0" height="16.92" fill="#00B050"/>
<rect x="695.82" y="445.20" width="13.0" height="27.02" fill="#9900CC"/>
<rect x="695.82" y="400.10" width="13.0" height="45.12" fill="#0070C0"/>
<rect x="695.82" y="376.10" width="13.0" height="24.02" fill="#8F7327"/>
<rect x="695.82" y="352.30" width="13.0" height="23.82" fill="#9DC3E6"/>
<rect x="695.82" y="336.20" width="13.0" height="16.12" fill="#C00000"/>
<rect x="712.66" y="495.20" width="13.0" height="5.12" fill="#FF99FF"/>
<rect x="712.66" y="493.10" width="13.0" height="2.12" fill="#FFC000"/>
<rect x="712.66" y="483.20" width="13.0" height="9.92" fill="#00B050"/>
<rect x="712.66" y="465.30" width="13.0" height="17.92" fill="#9900CC"/>
<rect x="712.66" y="439.30" width="13.0" height="26.02" fill="#0070C0"/>
<rect x="712.66" y="394.10" width="13.0" height="45.22" fill="#8F7327"/>
<rect x="712.66" y="373.20" width="13.0" height="20.92" fill="#9DC3E6"/>
<rect x="712.66" y="352.40" width="13.0" height="20.82" fill="#C00000"/>
<rect x="729.50" y="498.30" width="13.0" height="2.02" fill="#FF99FF"/>
<rect x="729.50" y="497.20" width="13.0" height="1.12" fill="#00B0F0"/>
<rect x="729.50" y="494.10" width="13.0" height="3.12" fill="#FFC000"/>
<rect x="729.50" y="490.30" width="13.0" height="3.82" fill="#00B050"/>
<rect x="729.50" y="460.40" width="13.0" height="29.92" fill="#9900CC"/>
<rect x="729.50" y="457.30" width="13.0" height="3.12" fill="#FFFF00"/>
<rect x="729.50" y="443.30" width="13.0" height="14.02" fill="#0070C0"/>
<rect x="729.50" y="424.20" width="13.0" height="19.12" fill="#8F7327"/>
<rect x="729.50" y="399.30" width="13.0" height="24.92" fill="#9DC3E6"/>
<rect x="729.50" y="379.30" width="13.0" height="20.02" fill="#C00000"/>
<rect x="746.34" y="496.20" width="13.0" height="4.12" fill="#FF99FF"/>
<rect x="746.34" y="493.10" width="13.0" height="3.12" fill="#00B050"/>
<rect x="746.34" y="476.20" width="13.0" height="16.92" fill="#9900CC"/>
<rect x="746.34" y="466.30" width="13.0" height="9.92" fill="#0070C0"/>
<rect x="746.34" y="449.20" width="13.0" height="17.12" fill="#8F7327"/>
<rect x="746.34" y="430.30" width="13.0" height="18.92" fill="#9DC3E6"/>
<rect x="746.34" y="421.30" width="13.0" height="9.02" fill="#C00000"/>
<rect x="763.18" y="495.20" width="13.0" height="5.12" fill="#FF99FF"/>
<rect x="763.18" y="488.20" width="13.0" height="7.02" fill="#00B050"/>
<rect x="763.18" y="464.30" width="13.0" height="23.92" fill="#9900CC"/>
<rect x="763.18" y="450.20" width="13.0" height="14.12" fill="#0070C0"/>
<rect x="763.18" y="436.20" width="13.0" height="14.02" fill="#8F7327"/>
<rect x="763.18" y="412.30" width="13.0" height="23.92" fill="#9DC3E6"/>
<rect x="763.18" y="408.20" width="13.0" height="4.12" fill="#C00000"/>
<rect x="780.02" y="497.20" width="13.0" height="3.12" fill="#FF99FF"/>
<rect x="780.02" y="496.20" width="13.0" height="1.02" fill="#00B0F0"/>
<rect x="780.02" y="490.30" width="13.0" height="5.92" fill="#00B050"/>
<rect x="780.02" y="461.30" width="13.0" height="29.02" fill="#9900CC"/>
<rect x="780.02" y="449.20" width="13.0" height="12.12" fill="#0070C0"/>
<rect x="780.02" y="442.30" width="13.0" height="6.92" fill="#8F7327"/>
<rect x="780.02" y="426.30" width="13.0" height="16.02" fill="#9DC3E6"/>
<rect x="780.02" y="416.30" width="13.0" height="10.02" fill="#C00000"/>
<rect x="796.86" y="495.60" width="13.0" height="4.72" fill="#FF99FF"/>
<rect x="796.86" y="488.50" width="13.0" height="7.12" fill="#00B050"/>
<rect x="796.86" y="473.50" width="13.0" height="15.02" fill="#9900CC"/>
<rect x="796.86" y="463.70" width="13.0" height="9.82" fill="#0070C0"/>
<rect x="796.86" y="453.60" width="13.0" height="10.12" fill="#8F7327"/>
<rect x="796.86" y="436.50" width="13.0" height="17.12" fill="#9DC3E6"/>
<rect x="796.86" y="418.60" width="13.0" height="17.92" fill="#C00000"/>
<rect x="813.70" y="495.60" width="13.0" height="4.72" fill="#FF99FF"/>
<rect x="813.70" y="489.60" width="13.0" height="6.02" fill="#00B050"/>
<rect x="813.70" y="473.50" width="13.0" height="16.12" fill="#9900CC"/>
<rect x="813.70" y="465.40" width="13.0" height="8.12" fill="#0070C0"/>
<rect x="813.70" y="457.60" width="13.0" height="7.82" fill="#8F7327"/>
<rect x="813.70" y="415.70" width="13.0" height="41.92" fill="#9DC3E6"/>
<rect x="813.70" y="399.60" width="13.0" height="16.12" fill="#C00000"/>
<rect x="830.54" y="498.60" width="13.0" height="1.72" fill="#FF99FF"/>
<rect x="830.54" y="490.50" width="13.0" height="8.12" fill="#00B050"/>
<rect x="830.54" y="474.50" width="13.0" height="16.02" fill="#9900CC"/>
<rect x="830.54" y="471.40" width="13.0" height="3.12" fill="#0070C0"/>
<rect x="830.54" y="467.50" width="13.0" height="3.92" fill="#8F7327"/>
<rect x="830.54" y="437.50" width="13.0" height="30.02" fill="#9DC3E6"/>
<rect x="830.54" y="424.60" width="13.0" height="12.92" fill="#C00000"/>
<rect x="847.38" y="498.60" width="13.0" height="1.72" fill="#FF99FF"/>
<rect x="847.38" y="494.60" width="13.0" height="4.02" fill="#00B050"/>
<rect x="847.38" y="477.50" width="13.0" height="17.12" fill="#9900CC"/>
<rect x="847.38" y="470.50" width="13.0" height="7.02" fill="#0070C0"/>
<rect x="847.38" y="465.50" width="13.0" height="5.02" fill="#8F7327"/>
<rect x="847.38" y="437.60" width="13.0" height="27.92" fill="#9DC3E6"/>
<rect x="847.38" y="424.70" width="13.0" height="12.92" fill="#C00000"/>
<rect x="864.22" y="496.50" width="13.0" height="3.82" fill="#FF99FF"/>
<rect x="864.22" y="495.60" width="13.0" height="0.92" fill="#FFC000"/>
<rect x="864.22" y="493.60" width="13.0" height="2.02" fill="#00B050"/>
<rect x="864.22" y="478.60" width="13.0" height="15.02" fill="#9900CC"/>
<rect x="864.22" y="477.50" width="13.0" height="1.12" fill="#FFFF00"/>
<rect x="864.22" y="475.80" width="13.0" height="1.72" fill="#0070C0"/>
<rect x="864.22" y="469.60" width="13.0" height="6.22" fill="#8F7327"/>
<rect x="864.22" y="430.80" width="13.0" height="38.82" fill="#9DC3E6"/>
<rect x="864.22" y="412.70" width="13.0" height="18.12" fill="#C00000"/>
<rect x="881.06" y="499.00" width="13.0" height="1.32" fill="#00B0F0"/>
<rect x="881.06" y="490.50" width="13.0" height="8.52" fill="#00B050"/>
<rect x="881.06" y="480.40" width="13.0" height="10.12" fill="#9900CC"/>
<rect x="881.06" y="477.40" width="13.0" height="3.02" fill="#0070C0"/>
<rect x="881.06" y="472.40" width="13.0" height="5.02" fill="#8F7327"/>
<rect x="881.06" y="442.40" width="13.0" height="30.02" fill="#9DC3E6"/>
<rect x="881.06" y="431.40" width="13.0" height="11.02" fill="#C00000"/>
<rect x="897.90" y="497.60" width="13.0" height="2.72" fill="#FF99FF"/>
<rect x="897.90" y="495.60" width="13.0" height="2.02" fill="#00B050"/>
<rect x="897.90" y="486.60" width="13.0" height="9.02" fill="#9900CC"/>
<rect x="897.90" y="479.50" width="13.0" height="7.12" fill="#0070C0"/>
<rect x="897.90" y="478.40" width="13.0" height="1.12" fill="#8F7327"/>
<rect x="897.90" y="454.60" width="13.0" height="23.82" fill="#9DC3E6"/>
<rect x="897.90" y="442.50" width="13.0" height="12.12" fill="#C00000"/>
<rect x="914.74" y="497.60" width="13.0" height="2.72" fill="#FF99FF"/>
<rect x="914.74" y="494.50" width="13.0" height="3.12" fill="#00B050"/>
<rect x="914.74" y="492.50" width="13.0" height="2.02" fill="#9900CC"/>
<rect x="914.74" y="491.60" width="13.0" height="0.92" fill="#0070C0"/>
<rect x="914.74" y="486.60" width="13.0" height="5.02" fill="#8F7327"/>
<rect x="914.74" y="456.60" width="13.0" height="30.02" fill="#9DC3E6"/>
<rect x="914.74" y="446.50" width="13.0" height="10.12" fill="#C00000"/>
<rect x="931.58" y="499.40" width="13.0" height="0.92" fill="#FF99FF"/>
<rect x="931.58" y="493.60" width="13.0" height="5.82" fill="#00B050"/>
<rect x="931.58" y="492.90" width="13.0" height="0.72" fill="#9900CC"/>
<rect x="931.58" y="491.60" width="13.0" height="1.32" fill="#FFFF00"/>
<rect x="931.58" y="490.50" width="13.0" height="1.12" fill="#0070C0"/>
<rect x="931.58" y="468.70" width="13.0" height="21.82" fill="#9DC3E6"/>
<rect x="931.58" y="455.50" width="13.0" height="13.22" fill="#C00000"/>
<rect x="948.42" y="498.40" width="13.0" height="1.92" fill="#FF99FF"/>
<rect x="948.42" y="495.30" width="13.0" height="3.12" fill="#00B050"/>
<rect x="948.42" y="494.40" width="13.0" height="0.92" fill="#9900CC"/>
<rect x="948.42" y="493.20" width="13.0" height="1.22" fill="#0070C0"/>
<rect x="948.42" y="480.20" width="13.0" height="13.02" fill="#9DC3E6"/>
<rect x="948.42" y="475.30" width="13.0" height="4.92" fill="#C00000"/>
<rect x="965.26" y="499.40" width="13.0" height="0.92" fill="#FF99FF"/>
<rect x="965.26" y="498.40" width="13.0" height="1.02" fill="#00B050"/>
<rect x="965.26" y="495.30" width="13.0" height="3.12" fill="#9900CC"/>
<rect x="965.26" y="492.20" width="13.0" height="3.12" fill="#0070C0"/>
<rect x="965.26" y="491.10" width="13.0" height="1.12" fill="#8F7327"/>
<rect x="965.26" y="475.30" width="13.0" height="15.82" fill="#9DC3E6"/>
<rect x="965.26" y="468.20" width="13.0" height="7.12" fill="#C00000"/>
<rect x="982.10" y="499.20" width="13.0" height="1.12" fill="#FF99FF"/>
<rect x="982.10" y="494.30" width="13.0" height="4.92" fill="#00B050"/>
<rect x="982.10" y="491.50" width="13.0" height="2.82" fill="#9900CC"/>
<rect x="982.10" y="490.30" width="13.0" height="1.22" fill="#FFFF00"/>
<rect x="982.10" y="486.30" width="13.0" height="4.02" fill="#0070C0"/>
<rect x="982.10" y="482.30" width="13.0" height="4.02" fill="#8F7327"/>
<rect x="982.10" y="446.30" width="13.0" height="36.02" fill="#9DC3E6"/>
<rect x="982.10" y="430.20" width="13.0" height="16.12" fill="#C00000"/>
<rect x="998.94" y="499.40" width="13.0" height="0.92" fill="#FF99FF"/>
<rect x="998.94" y="496.30" width="13.0" height="3.12" fill="#00B050"/>
<rect x="998.94" y="494.40" width="13.0" height="1.92" fill="#9900CC"/>
<rect x="998.94" y="492.90" width="13.0" height="1.52" fill="#FFFF00"/>
<rect x="998.94" y="491.90" width="13.0" height="1.02" fill="#8F7327"/>
<rect x="998.94" y="460.10" width="13.0" height="31.82" fill="#9DC3E6"/>
<rect x="998.94" y="440.20" width="13.0" height="19.92" fill="#C00000"/>
<rect x="1015.78" y="495.40" width="13.0" height="4.92" fill="#FF99FF"/>
<rect x="1015.78" y="488.30" width="13.0" height="7.12" fill="#00B050"/>
<rect x="1015.78" y="486.20" width="13.0" height="2.12" fill="#9900CC"/>
<rect x="1015.78" y="482.20" width="13.0" height="4.02" fill="#0070C0"/>
<rect x="1015.78" y="477.30" width="13.0" height="4.92" fill="#8F7327"/>
<rect x="1015.78" y="440.30" width="13.0" height="37.02" fill="#9DC3E6"/>
<rect x="1015.78" y="425.20" width="13.0" height="15.12" fill="#C00000"/>
<rect x="1032.62" y="497.30" width="13.0" height="3.02" fill="#FF99FF"/>
<rect x="1032.62" y="496.30" width="13.0" height="1.02" fill="#FFC000"/>
<rect x="1032.62" y="493.20" width="13.0" height="3.12" fill="#00B050"/>
<rect x="1032.62" y="490.10" width="13.0" height="3.12" fill="#9900CC"/>
<rect x="1032.62" y="489.10" width="13.0" height="1.02" fill="#0070C0"/>
<rect x="1032.62" y="473.10" width="13.0" height="16.02" fill="#9DC3E6"/>
<rect x="1032.62" y="459.10" width="13.0" height="14.02" fill="#C00000"/>
<rect x="1049.46" y="495.40" width="13.0" height="4.92" fill="#FF99FF"/>
<rect x="1049.46" y="494.30" width="13.0" height="1.12" fill="#00B050"/>
<rect x="1049.46" y="493.30" width="13.0" height="1.02" fill="#9900CC"/>
<rect x="1049.46" y="492.30" width="13.0" height="1.02" fill="#FFFF00"/>
<rect x="1049.46" y="491.20" width="13.0" height="1.12" fill="#0070C0"/>
<rect x="1049.46" y="475.40" width="13.0" height="15.82" fill="#9DC3E6"/>
<rect x="1049.46" y="469.50" width="13.0" height="5.92" fill="#C00000"/>
<rect x="1066.30" y="497.30" width="13.0" height="3.02" fill="#FF99FF"/>
<rect x="1066.30" y="495.30" width="13.0" height="2.02" fill="#00B050"/>
<rect x="1066.30" y="493.20" width="13.0" height="2.12" fill="#9900CC"/>
<rect x="1066.30" y="473.20" width="13.0" height="20.02" fill="#9DC3E6"/>
<rect x="1066.30" y="453.30" width="13.0" height="19.92" fill="#C00000"/>
<rect x="1083.14" y="497.30" width="13.0" height="3.02" fill="#FF99FF"/>
<rect x="1083.14" y="496.30" width="13.0" height="1.02" fill="#0070C0"/>
<rect x="1083.14" y="495.10" width="13.0" height="1.22" fill="#8F7327"/>
<rect x="1083.14" y="483.20" width="13.0" height="11.92" fill="#9DC3E6"/>
<rect x="1083.14" y="468.20" width="13.0" height="15.02" fill="#C00000"/>
<rect x="1099.98" y="499.30" width="13.0" height="1.02" fill="#9900CC"/>
<rect x="1099.98" y="498.10" width="13.0" height="1.22" fill="#0070C0"/>
<rect x="1099.98" y="497.20" width="13.0" height="0.92" fill="#8F7327"/>
<rect x="1099.98" y="484.10" width="13.0" height="13.12" fill="#9DC3E6"/>
<rect x="1099.98" y="475.20" width="13.0" height="8.92" fill="#C00000"/>
<rect x="1116.82" y="497.20" width="13.0" height="3.12" fill="#FF99FF"/>
<rect x="1116.82" y="495.30" width="13.0" height="1.92" fill="#00B050"/>
<rect x="1116.82" y="493.10" width="13.0" height="2.22" fill="#9900CC"/>
<rect x="1116.82" y="492.20" width="13.0" height="0.92" fill="#0070C0"/>
<rect x="1116.82" y="490.20" width="13.0" height="2.02" fill="#8F7327"/>
<rect x="1116.82" y="467.20" width="13.0" height="23.02" fill="#9DC3E6"/>
<rect x="1116.82" y="454.20" width="13.0" height="13.02" fill="#C00000"/>
<rect x="1133.66" y="499.30" width="13.0" height="1.02" fill="#FF99FF"/>
<rect x="1133.66" y="498.30" width="13.0" height="1.02" fill="#00B050"/>
<rect x="1133.66" y="493.10" width="13.0" height="5.22" fill="#9900CC"/>
<rect x="1133.66" y="490.30" width="13.0" height="2.82" fill="#0070C0"/>
<rect x="1133.66" y="486.30" width="13.0" height="4.02" fill="#8F7327"/>
<rect x="1133.66" y="454.30" width="13.0" height="32.02" fill="#9DC3E6"/>
<rect x="1133.66" y="428.30" width="13.0" height="26.02" fill="#C00000"/>
<rect x="1150.50" y="499.30" width="13.0" height="1.02" fill="#FF99FF"/>
<rect x="1150.50" y="496.20" width="13.0" height="3.12" fill="#FFC000"/>
<rect x="1150.50" y="495.30" width="13.0" height="0.92" fill="#00B050"/>
<rect x="1150.50" y="491.20" width="13.0" height="4.12" fill="#9900CC"/>
<rect x="1150.50" y="490.20" width="13.0" height="1.02" fill="#8F7327"/>
<rect x="1150.50" y="440.20" width="13.0" height="50.02" fill="#9DC3E6"/>
<rect x="1150.50" y="403.00" width="13.0" height="37.22" fill="#C00000"/>
<rect x="1167.34" y="497.20" width="13.0" height="3.12" fill="#FF99FF"/>
<rect x="1167.34" y="494.10" width="13.0" height="3.12" fill="#FFC000"/>
<rect x="1167.34" y="491.30" width="13.0" height="2.82" fill="#9900CC"/>
<rect x="1167.34" y="490.30" width="13.0" height="1.02" fill="#0070C0"/>
<rect x="1167.34" y="488.20" width="13.0" height="2.12" fill="#8F7327"/>
<rect x="1167.34" y="439.10" width="13.0" height="49.12" fill="#9DC3E6"/>
<rect x="1167.34" y="415.20" width="13.0" height="23.92" fill="#C00000"/>
<rect x="1184.18" y="499.30" width="13.0" height="1.02" fill="#FF99FF"/>
<rect x="1184.18" y="496.20" width="13.0" height="3.12" fill="#FFC000"/>
<rect x="1184.18" y="495.30" width="13.0" height="0.92" fill="#00B050"/>
<rect x="1184.18" y="494.10" width="13.0" height="1.22" fill="#9900CC"/>
<rect x="1184.18" y="491.30" width="13.0" height="2.82" fill="#0070C0"/>
<rect x="1184.18" y="490.30" width="13.0" height="1.02" fill="#8F7327"/>
<rect x="1184.18" y="438.20" width="13.0" height="52.12" fill="#9DC3E6"/>
<rect x="1184.18" y="413.30" width="13.0" height="24.92" fill="#C00000"/>
<rect x="1201.02" y="498.30" width="13.0" height="2.02" fill="#FF99FF"/>
<rect x="1201.02" y="483.20" width="13.0" height="15.12" fill="#FFC000"/>
<rect x="1201.02" y="480.10" width="13.0" height="3.12" fill="#0070C0"/>
<rect x="1201.02" y="479.10" width="13.0" height="1.02" fill="#8F7327"/>
<rect x="1201.02" y="433.20" width="13.0" height="45.92" fill="#9DC3E6"/>
<rect x="1201.02" y="422.20" width="13.0" height="11.02" fill="#C00000"/>
<rect x="1217.86" y="497.20" width="13.0" height="3.12" fill="#FF99FF"/>
<rect x="1217.86" y="470.20" width="13.0" height="27.02" fill="#FFC000"/>
<rect x="1217.86" y="468.30" width="13.0" height="1.92" fill="#9900CC"/>
<rect x="1217.86" y="467.10" width="13.0" height="1.22" fill="#FFFF00"/>
<rect x="1217.86" y="465.20" width="13.0" height="1.92" fill="#0070C0"/>
<rect x="1217.86" y="406.20" width="13.0" height="59.02" fill="#9DC3E6"/>
<rect x="1217.86" y="395.30" width="13.0" height="10.92" fill="#C00000"/>
<rect x="1234.70" y="495.20" width="13.0" height="5.12" fill="#FF99FF"/>
<rect x="1234.70" y="477.30" width="13.0" height="17.92" fill="#FFC000"/>
<rect x="1234.70" y="473.30" width="13.0" height="4.02" fill="#9900CC"/>
<rect x="1234.70" y="472.20" width="13.0" height="1.12" fill="#FFFF00"/>
<rect x="1234.70" y="469.20" width="13.0" height="3.02" fill="#0070C0"/>
<rect x="1234.70" y="466.20" width="13.0" height="3.02" fill="#8F7327"/>
<rect x="1234.70" y="414.10" width="13.0" height="52.12" fill="#9DC3E6"/>
<rect x="1234.70" y="406.20" width="13.0" height="7.92" fill="#C00000"/>
<rect x="1251.54" y="491.30" width="13.0" height="9.02" fill="#FF99FF"/>
<rect x="1251.54" y="468.20" width="13.0" height="23.12" fill="#FFC000"/>
<rect x="1251.54" y="467.50" width="13.0" height="0.72" fill="#00B050"/>
<rect x="1251.54" y="466.40" width="13.0" height="1.12" fill="#9900CC"/>
<rect x="1251.54" y="462.30" width="13.0" height="4.12" fill="#FFFF00"/>
<rect x="1251.54" y="454.40" width="13.0" height="7.92" fill="#0070C0"/>
<rect x="1251.54" y="453.30" width="13.0" height="1.12" fill="#8F7327"/>
<rect x="1251.54" y="391.40" width="13.0" height="61.92" fill="#9DC3E6"/>
<rect x="1251.54" y="386.20" width="13.0" height="5.22" fill="#C00000"/>
<rect x="1268.38" y="497.10" width="13.0" height="3.22" fill="#FF99FF"/>
<rect x="1268.38" y="474.30" width="13.0" height="22.82" fill="#FFC000"/>
<rect x="1268.38" y="472.20" width="13.0" height="2.12" fill="#9900CC"/>
<rect x="1268.38" y="469.00" width="13.0" height="3.22" fill="#FFFF00"/>
<rect x="1268.38" y="461.40" width="13.0" height="7.62" fill="#0070C0"/>
<rect x="1268.38" y="458.30" width="13.0" height="3.12" fill="#8F7327"/>
<rect x="1268.38" y="403.30" width="13.0" height="55.02" fill="#9DC3E6"/>
<rect x="1285.22" y="498.30" width="13.0" height="2.02" fill="#FF99FF"/>
<rect x="1285.22" y="454.10" width="13.0" height="44.22" fill="#FFC000"/>
<rect x="1285.22" y="453.20" width="13.0" height="0.92" fill="#00B050"/>
<rect x="1285.22" y="450.10" width="13.0" height="3.12" fill="#9900CC"/>
<rect x="1285.22" y="447.00" width="13.0" height="3.12" fill="#FFFF00"/>
<rect x="1285.22" y="434.10" width="13.0" height="12.92" fill="#0070C0"/>
<rect x="1285.22" y="433.10" width="13.0" height="1.02" fill="#8F7327"/>
<rect x="1285.22" y="364.10" width="13.0" height="69.02" fill="#9DC3E6"/>
<rect x="1302.06" y="496.30" width="13.0" height="4.02" fill="#FF99FF"/>
<rect x="1302.06" y="456.40" width="13.0" height="39.92" fill="#FFC000"/>
<rect x="1302.06" y="451.40" width="13.0" height="5.02" fill="#FFFF00"/>
<rect x="1302.06" y="434.30" width="13.0" height="17.12" fill="#0070C0"/>
<rect x="1302.06" y="433.30" width="13.0" height="1.02" fill="#8F7327"/>
<rect x="1302.06" y="389.30" width="13.0" height="44.02" fill="#9DC3E6"/>
<rect x="1302.06" y="388.40" width="13.0" height="0.92" fill="#C00000"/>
<rect x="1318.90" y="498.30" width="13.0" height="2.02" fill="#FF99FF"/>
<rect x="1318.90" y="434.20" width="13.0" height="64.12" fill="#FFC000"/>
<rect x="1318.90" y="430.30" width="13.0" height="3.92" fill="#9900CC"/>
<rect x="1318.90" y="425.20" width="13.0" height="5.12" fill="#FFFF00"/>
<rect x="1318.90" y="398.30" width="13.0" height="26.92" fill="#0070C0"/>
<rect x="1318.90" y="395.30" width="13.0" height="3.02" fill="#8F7327"/>
<rect x="1318.90" y="331.30" width="13.0" height="64.02" fill="#9DC3E6"/>
<rect x="1318.90" y="329.30" width="13.0" height="2.02" fill="#C00000"/>
<rect x="1335.74" y="496.30" width="13.0" height="4.02" fill="#FF99FF"/>
<rect x="1335.74" y="434.30" width="13.0" height="62.02" fill="#FFC000"/>
<rect x="1335.74" y="433.40" width="13.0" height="0.92" fill="#00B050"/>
<rect x="1335.74" y="432.20" width="13.0" height="1.22" fill="#9900CC"/>
<rect x="1335.74" y="424.30" width="13.0" height="7.92" fill="#FFFF00"/>
<rect x="1335.74" y="391.30" width="13.0" height="33.02" fill="#0070C0"/>
<rect x="1335.74" y="389.40" width="13.0" height="1.92" fill="#8F7327"/>
<rect x="1335.74" y="335.50" width="13.0" height="53.92" fill="#9DC3E6"/>
<rect x="1335.74" y="332.30" width="13.0" height="3.22" fill="#C00000"/>
<rect x="1352.58" y="498.30" width="13.0" height="2.02" fill="#FF99FF"/>
<rect x="1352.58" y="429.30" width="13.0" height="69.02" fill="#FFC000"/>
<rect x="1352.58" y="426.20" width="13.0" height="3.12" fill="#9900CC"/>
<rect x="1352.58" y="408.30" width="13.0" height="17.92" fill="#FFFF00"/>
<rect x="1352.58" y="372.20" width="13.0" height="36.12" fill="#0070C0"/>
<rect x="1352.58" y="369.10" width="13.0" height="3.12" fill="#8F7327"/>
<rect x="1352.58" y="316.50" width="13.0" height="52.62" fill="#9DC3E6"/>
<rect x="1352.58" y="315.30" width="13.0" height="1.22" fill="#C00000"/>
<rect x="1369.42" y="499.30" width="13.0" height="1.02" fill="#FF99FF"/>
<rect x="1369.42" y="464.30" width="13.0" height="35.02" fill="#FFC000"/>
<rect x="1369.42" y="463.30" width="13.0" height="1.02" fill="#00B050"/>
<rect x="1369.42" y="462.10" width="13.0" height="1.22" fill="#9900CC"/>
<rect x="1369.42" y="445.30" width="13.0" height="16.82" fill="#FFFF00"/>
<rect x="1369.42" y="420.40" width="13.0" height="24.92" fill="#0070C0"/>
<rect x="1369.42" y="417.30" width="13.0" height="3.12" fill="#8F7327"/>
<rect x="1369.42" y="382.20" width="13.0" height="35.12" fill="#9DC3E6"/>
<rect x="104" y="499.8" width="1280.5" height="1.2" fill="#d0d0d0"/>
<rect x="104" y="500" width="1.2" height="30.5" fill="#d0d0d0"/>
<rect x="979.2" y="500" width="1.2" height="30.5" fill="#d0d0d0"/>
<polyline points="112.92,334.70 129.76,369.50 146.60,395.70 163.44,352.10 180.28,429.90 197.12,443.70 213.96,404.90 230.80,451.50 247.64,445.50 264.48,415.60 281.32,402.00 298.16,389.00 315.00,416.30 331.84,408.90 348.68,392.50 365.52,379.80 382.36,389.60 399.20,368.10 416.04,353.80 432.88,329.00 449.72,290.80 466.56,311.80 483.40,281.80 500.24,291.60 517.08,344.80 533.92,307.00 550.76,299.60 567.60,286.60 584.44,290.30 601.28,300.80 618.12,309.80 634.96,284.70 651.80,310.30 668.64,334.90 685.48,319.80 702.32,329.00 719.16,321.60 736.00,346.20 752.84,378.10 769.68,353.80 786.52,356.90 803.36,349.10 820.20,341.70 837.04,364.00 853.88,355.60 870.72,344.90 887.56,364.70 904.40,377.90 921.24,374.90 938.08,381.80 954.92,426.20 971.76,393.80 988.60,326.80 1005.44,370.10 1022.28,328.80 1039.12,392.80 1055.96,389.10 1072.80,357.60 1089.64,385.80 1106.48,414.30 1123.32,361.70 1140.16,328.10 1157.00,315.60 1173.84,349.30 1190.68,337.80 1207.52,345.00 1224.36,333.50 1241.20,317.80 1258.04,317.80 1274.88,346.20 1291.72,297.80 1308.56,323.80 1325.40,274.40 1342.24,235.90 1359.08,238.00 1375.92,241.90" fill="none" stroke="#7DC242" stroke-width="2.6" stroke-linejoin="round" stroke-linecap="round"/>
<text x="112.92" y="511.8" font-size="7.6" font-weight="bold" text-anchor="middle" fill="#000">1</text>
<text x="129.76" y="511.8" font-size="7.6" font-weight="bold" text-anchor="middle" fill="#000">2</text>
<text x="146.60" y="511.8" font-size="7.6" font-weight="bold" text-anchor="middle" fill="#000">3</text>
<text x="163.44" y="511.8" font-size="7.6" font-weight="bold" text-anchor="middle" fill="#000">4</text>
<text x="180.28" y="511.8" font-size="7.6" font-weight="bold" text-anchor="middle" fill="#000">5</text>
<text x="197.12" y="511.8" font-size="7.6" font-weight="bold" text-anchor="middle" fill="#000">6</text>
<text x="213.96" y="511.8" font-size="7.6" font-weight="bold" text-anchor="middle" fill="#000">7</text>
<text x="230.80" y="511.8" font-size="7.6" font-weight="bold" text-anchor="middle" fill="#000">8</text>
<text x="247.64" y="511.8" font-size="7.6" font-weight="bold" text-anchor="middle" fill="#000">9</text>
<text x="264.48" y="511.8" font-size="7.6" font-weight="bold" text-anchor="middle" fill="#000">10</text>
<text x="281.32" y="511.8" font-size="7.6" font-weight="bold" text-anchor="middle" fill="#000">11</text>
<text x="298.16" y="511.8" font-size="7.6" font-weight="bold" text-anchor="middle" fill="#000">12</text>
<text x="315.00" y="511.8" font-size="7.6" font-weight="bold" text-anchor="middle" fill="#000">13</text>
<text x="331.84" y="511.8" font-size="7.6" font-weight="bold" text-anchor="middle" fill="#000">14</text>
<text x="348.68" y="511.8" font-size="7.6" font-weight="bold" text-anchor="middle" fill="#000">15</text>
<text x="365.52" y="511.8" font-size="7.6" font-weight="bold" text-anchor="middle" fill="#000">16</text>
<text x="382.36" y="511.8" font-size="7.6" font-weight="bold" text-anchor="middle" fill="#000">17</text>
<text x="399.20" y="511.8" font-size="7.6" font-weight="bold" text-anchor="middle" fill="#000">18</text>
<text x="416.04" y="511.8" font-size="7.6" font-weight="bold" text-anchor="middle" fill="#000">19</text>
<text x="432.88" y="511.8" font-size="7.6" font-weight="bold" text-anchor="middle" fill="#000">20</text>
<text x="449.72" y="511.8" font-size="7.6" font-weight="bold" text-anchor="middle" fill="#000">21</text>
<text x="466.56" y="511.8" font-size="7.6" font-weight="bold" text-anchor="middle" fill="#000">22</text>
<text x="483.40" y="511.8" font-size="7.6" font-weight="bold" text-anchor="middle" fill="#000">23</text>
<text x="500.24" y="511.8" font-size="7.6" font-weight="bold" text-anchor="middle" fill="#000">24</text>
<text x="517.08" y="511.8" font-size="7.6" font-weight="bold" text-anchor="middle" fill="#000">25</text>
<text x="533.92" y="511.8" font-size="7.6" font-weight="bold" text-anchor="middle" fill="#000">26</text>
<text x="550.76" y="511.8" font-size="7.6" font-weight="bold" text-anchor="middle" fill="#000">27</text>
<text x="567.60" y="511.8" font-size="7.6" font-weight="bold" text-anchor="middle" fill="#000">28</text>
<text x="584.44" y="511.8" font-size="7.6" font-weight="bold" text-anchor="middle" fill="#000">29</text>
<text x="601.28" y="511.8" font-size="7.6" font-weight="bold" text-anchor="middle" fill="#000">30</text>
<text x="618.12" y="511.8" font-size="7.6" font-weight="bold" text-anchor="middle" fill="#000">31</text>
<text x="634.96" y="511.8" font-size="7.6" font-weight="bold" text-anchor="middle" fill="#000">32</text>
<text x="651.80" y="511.8" font-size="7.6" font-weight="bold" text-anchor="middle" fill="#000">33</text>
<text x="668.64" y="511.8" font-size="7.6" font-weight="bold" text-anchor="middle" fill="#000">34</text>
<text x="685.48" y="511.8" font-size="7.6" font-weight="bold" text-anchor="middle" fill="#000">35</text>
<text x="702.32" y="511.8" font-size="7.6" font-weight="bold" text-anchor="middle" fill="#000">36</text>
<text x="719.16" y="511.8" font-size="7.6" font-weight="bold" text-anchor="middle" fill="#000">37</text>
<text x="736.00" y="511.8" font-size="7.6" font-weight="bold" text-anchor="middle" fill="#000">38</text>
<text x="752.84" y="511.8" font-size="7.6" font-weight="bold" text-anchor="middle" fill="#000">39</text>
<text x="769.68" y="511.8" font-size="7.6" font-weight="bold" text-anchor="middle" fill="#000">40</text>
<text x="786.52" y="511.8" font-size="7.6" font-weight="bold" text-anchor="middle" fill="#000">41</text>
<text x="803.36" y="511.8" font-size="7.6" font-weight="bold" text-anchor="middle" fill="#000">42</text>
<text x="820.20" y="511.8" font-size="7.6" font-weight="bold" text-anchor="middle" fill="#000">43</text>
<text x="837.04" y="511.8" font-size="7.6" font-weight="bold" text-anchor="middle" fill="#000">44</text>
<text x="853.88" y="511.8" font-size="7.6" font-weight="bold" text-anchor="middle" fill="#000">45</text>
<text x="870.72" y="511.8" font-size="7.6" font-weight="bold" text-anchor="middle" fill="#000">46</text>
<text x="887.56" y="511.8" font-size="7.6" font-weight="bold" text-anchor="middle" fill="#000">47</text>
<text x="904.40" y="511.8" font-size="7.6" font-weight="bold" text-anchor="middle" fill="#000">48</text>
<text x="921.24" y="511.8" font-size="7.6" font-weight="bold" text-anchor="middle" fill="#000">49</text>
<text x="938.08" y="511.8" font-size="7.6" font-weight="bold" text-anchor="middle" fill="#000">50</text>
<text x="954.92" y="511.8" font-size="7.6" font-weight="bold" text-anchor="middle" fill="#000">51</text>
<text x="971.76" y="511.8" font-size="7.6" font-weight="bold" text-anchor="middle" fill="#000">52</text>
<text x="988.60" y="511.8" font-size="7.6" font-weight="bold" text-anchor="middle" fill="#000">1</text>
<text x="1005.44" y="511.8" font-size="7.6" font-weight="bold" text-anchor="middle" fill="#000">2</text>
<text x="1022.28" y="511.8" font-size="7.6" font-weight="bold" text-anchor="middle" fill="#000">3</text>
<text x="1039.12" y="511.8" font-size="7.6" font-weight="bold" text-anchor="middle" fill="#000">4</text>
<text x="1055.96" y="511.8" font-size="7.6" font-weight="bold" text-anchor="middle" fill="#000">5</text>
<text x="1072.80" y="511.8" font-size="7.6" font-weight="bold" text-anchor="middle" fill="#000">6</text>
<text x="1089.64" y="511.8" font-size="7.6" font-weight="bold" text-anchor="middle" fill="#000">7</text>
<text x="1106.48" y="511.8" font-size="7.6" font-weight="bold" text-anchor="middle" fill="#000">8</text>
<text x="1123.32" y="511.8" font-size="7.6" font-weight="bold" text-anchor="middle" fill="#000">9</text>
<text x="1140.16" y="511.8" font-size="7.6" font-weight="bold" text-anchor="middle" fill="#000">10</text>
<text x="1157.00" y="511.8" font-size="7.6" font-weight="bold" text-anchor="middle" fill="#000">11</text>
<text x="1173.84" y="511.8" font-size="7.6" font-weight="bold" text-anchor="middle" fill="#000">12</text>
<text x="1190.68" y="511.8" font-size="7.6" font-weight="bold" text-anchor="middle" fill="#000">13</text>
<text x="1207.52" y="511.8" font-size="7.6" font-weight="bold" text-anchor="middle" fill="#000">14</text>
<text x="1224.36" y="511.8" font-size="7.6" font-weight="bold" text-anchor="middle" fill="#000">15</text>
<text x="1241.20" y="511.8" font-size="7.6" font-weight="bold" text-anchor="middle" fill="#000">16</text>
<text x="1258.04" y="511.8" font-size="7.6" font-weight="bold" text-anchor="middle" fill="#000">17</text>
<text x="1274.88" y="511.8" font-size="7.6" font-weight="bold" text-anchor="middle" fill="#000">18</text>
<text x="1291.72" y="511.8" font-size="7.6" font-weight="bold" text-anchor="middle" fill="#000">19</text>
<text x="1308.56" y="511.8" font-size="7.6" font-weight="bold" text-anchor="middle" fill="#000">20</text>
<text x="1325.40" y="511.8" font-size="7.6" font-weight="bold" text-anchor="middle" fill="#000">21</text>
<text x="1342.24" y="511.8" font-size="7.6" font-weight="bold" text-anchor="middle" fill="#000">22</text>
<text x="1359.08" y="511.8" font-size="7.6" font-weight="bold" text-anchor="middle" fill="#000">23</text>
<text x="1375.92" y="511.8" font-size="7.6" font-weight="bold" text-anchor="middle" fill="#000">24</text>
<text x="526" y="526.7" font-size="6.2" font-weight="bold" fill="#000" textLength="32" lengthAdjust="spacingAndGlyphs">AÑO 2024</text>
<text x="1401.8" y="526.6" font-size="6.2" font-weight="bold" fill="#000" textLength="33" lengthAdjust="spacingAndGlyphs">AÑO 2025</text>
<text x="1222" y="541.6" font-size="6.2" font-weight="bold" fill="#000" textLength="31.3" lengthAdjust="spacingAndGlyphs">AÑO 2024</text>
<text transform="translate(44.6,441) rotate(-90)" x="0" y="0" font-size="14" font-weight="bold" fill="#000" textLength="191" lengthAdjust="spacingAndGlyphs">Nro de casos positivos para VR</text>
<text transform="translate(1434.1,415.8) rotate(-90)" x="0" y="0" font-size="14" font-weight="bold" fill="#000" textLength="106.5" lengthAdjust="spacingAndGlyphs">% de Positividad</text>
<text x="679.3" y="573.1" font-size="14" font-weight="bold" fill="#000" textLength="195" lengthAdjust="spacingAndGlyphs">Semanas Epidemiológicas</text>
<rect x="222.3" y="595.2" width="28.6" height="8" fill="#FF99FF"/>
<text x="254.1" y="603.4" font-size="12.8" font-weight="bold" fill="#000" textLength="86.2" lengthAdjust="spacingAndGlyphs">ADENOVIRUS</text>
<rect x="475" y="595.2" width="28.6" height="8" fill="#00B0F0"/>
<text x="506.7" y="603.4" font-size="12.8" font-weight="bold" fill="#000" textLength="122.2" lengthAdjust="spacingAndGlyphs">INFLUENZA A H3N2</text>
<rect x="727" y="595.2" width="28.6" height="8" fill="#FFC000"/>
<text x="758.8" y="603.4" font-size="12.8" font-weight="bold" fill="#000" textLength="122.6" lengthAdjust="spacingAndGlyphs">INFLUENZA A H1N1</text>
<rect x="980" y="595.2" width="28.6" height="8" fill="#00B050"/>
<text x="1011.4" y="603.4" font-size="12.8" font-weight="bold" fill="#000" textLength="83.1" lengthAdjust="spacingAndGlyphs">INFLUENZA B</text>
<rect x="222.3" y="618.6" width="28.6" height="8" fill="#9900CC"/>
<text x="254.1" y="626.8" font-size="12.8" font-weight="bold" fill="#000" textLength="106.8" lengthAdjust="spacingAndGlyphs">PARAINFLUENZA</text>
<rect x="475" y="618.6" width="28.6" height="8" fill="#FFFF00"/>
<text x="506.7" y="626.8" font-size="12.8" font-weight="bold" fill="#000" textLength="208.8" lengthAdjust="spacingAndGlyphs">INFLUENZA A NO SUBTIPIFICADO</text>
<rect x="727" y="618.6" width="28.6" height="8" fill="#0070C0"/>
<text x="758.8" y="626.8" font-size="12.8" font-weight="bold" fill="#000" textLength="25.4" lengthAdjust="spacingAndGlyphs">VSR</text>
<rect x="980" y="618.6" width="28.6" height="8" fill="#8F7327"/>
<text x="1011.4" y="626.8" font-size="12.8" font-weight="bold" fill="#000" textLength="135.3" lengthAdjust="spacingAndGlyphs">METAPNEUMOVIRUS</text>
<rect x="222.3" y="641.2" width="28.6" height="8" fill="#9DC3E6"/>
<text x="254.1" y="649.4" font-size="12.8" font-weight="bold" fill="#000" textLength="82.0" lengthAdjust="spacingAndGlyphs">RHINOVIRUS</text>
<rect x="475" y="641.2" width="28.6" height="8" fill="#C00000"/>
<text x="506.7" y="649.4" font-size="12.8" font-weight="bold" fill="#000" textLength="76.5" lengthAdjust="spacingAndGlyphs">SARS-COV-2</text>
<rect x="727" y="644" width="28.6" height="2" fill="#7DC242"/>
<text x="758.8" y="649.4" font-size="12.8" font-weight="bold" fill="#000" textLength="103.7" lengthAdjust="spacingAndGlyphs">% de Positividad</text>
<text x="1216.6" y="646.4" font-size="11.5" font-weight="bold" fill="#000" textLength="209.8" lengthAdjust="spacingAndGlyphs" xml:space="preserve">OVR=  OTROS VIRUS RESPIRATORIOS</text>
<g filter="url(#psh)">
<text x="24.79" y="714.8" font-size="23.2" fill="#000" textLength="50.58" lengthAdjust="spacingAndGlyphs">En la</text>
<text x="83.64" y="714.8" font-size="23.2" font-weight="bold" fill="#000" textLength="60.52" lengthAdjust="spacingAndGlyphs">SE 24</text>
<text x="150.93" y="714.8" font-size="23.2" fill="#000" textLength="841.6" lengthAdjust="spacingAndGlyphs">se identificaron 115 hospitalizados por IRAG asociados a Virus respiratorios:</text>
<text x="994.61" y="714.8" font-size="23.2" font-weight="bold" fill="#000" textLength="120.29" lengthAdjust="spacingAndGlyphs">Rhinovirus</text>
<text x="1122.35" y="714.8" font-size="23.2" fill="#000" textLength="49.91" lengthAdjust="spacingAndGlyphs">(34),</text>
<text x="1178.51" y="714.8" font-size="23.2" font-weight="bold" fill="#000" textLength="196.01" lengthAdjust="spacingAndGlyphs">Influenza A H1N1</text>
<text x="1381.73" y="714.8" font-size="23.2" fill="#000" textLength="51.08" lengthAdjust="spacingAndGlyphs">(34),</text>
<text x="26.2" y="744.9" font-size="23.2" font-weight="bold" fill="#000" textLength="44.24" lengthAdjust="spacingAndGlyphs">VSR</text>
<text x="75.3" y="744.9" font-size="23.2" fill="#000" textLength="52.56" lengthAdjust="spacingAndGlyphs">(24),</text>
<text x="132.06" y="744.9" font-size="23.2" font-weight="bold" fill="#000" textLength="318.34" lengthAdjust="spacingAndGlyphs">Influenza A No Subtipificado</text>
<text x="458.0" y="744.9" font-size="23.2" fill="#000" textLength="52.67" lengthAdjust="spacingAndGlyphs">(17),</text>
<text x="515.59" y="744.9" font-size="23.2" font-weight="bold" fill="#000" textLength="209.21" lengthAdjust="spacingAndGlyphs">Metapneumovirus</text>
<text x="730.13" y="744.9" font-size="23.2" fill="#000" textLength="40.54" lengthAdjust="spacingAndGlyphs">(3),</text>
<text x="773.48" y="744.9" font-size="23.2" font-weight="bold" fill="#000" textLength="125.2" lengthAdjust="spacingAndGlyphs">Influenza B</text>
<text x="904.98" y="744.9" font-size="23.2" fill="#000" textLength="39.02" lengthAdjust="spacingAndGlyphs">(1),</text>
<text x="948.09" y="744.9" font-size="23.2" font-weight="bold" fill="#000" textLength="151.68" lengthAdjust="spacingAndGlyphs">Parainfluenza</text>
<text x="1108.23" y="744.9" font-size="23.2" fill="#000" textLength="37.28" lengthAdjust="spacingAndGlyphs">(1),</text>
<text x="1150.99" y="744.9" font-size="23.2" font-weight="bold" fill="#000" textLength="129.08" lengthAdjust="spacingAndGlyphs">Adenovirus</text>
<text x="1285.3" y="744.9" font-size="23.2" fill="#000" textLength="38.26" lengthAdjust="spacingAndGlyphs">(1).</text>
</g>
<polyline points="517.7,747.2 519.3,748.6 520.9,747.2 522.5,748.6 524.1,747.2 525.7,748.6 527.3,747.2 528.9,748.6 530.5,747.2 532.1,748.6 533.7,747.2 535.3,748.6 536.9,747.2 538.5,748.6 540.1,747.2 541.7,748.6 543.3,747.2 544.9,748.6 546.5,747.2 548.1,748.6 549.7,747.2 551.3,748.6 552.9,747.2 554.5,748.6 556.1,747.2 557.7,748.6 559.3,747.2 560.9,748.6 562.5,747.2 564.1,748.6 565.7,747.2 567.3,748.6 568.9,747.2 570.5,748.6 572.1,747.2 573.7,748.6 575.3,747.2 576.9,748.6 578.5,747.2 580.1,748.6 581.7,747.2 583.3,748.6 584.9,747.2 586.5,748.6 588.1,747.2 589.7,748.6 591.3,747.2 592.9,748.6 594.5,747.2 596.1,748.6 597.7,747.2 599.3,748.6 600.9,747.2 602.5,748.6 604.1,747.2 605.7,748.6 607.3,747.2 608.9,748.6 610.5,747.2 612.1,748.6 613.7,747.2 615.3,748.6 616.9,747.2 618.5,748.6 620.1,747.2 621.7,748.6 623.3,747.2 624.9,748.6 626.5,747.2 628.1,748.6 629.7,747.2 631.3,748.6 632.9,747.2 634.5,748.6 636.1,747.2 637.7,748.6 639.3,747.2 640.9,748.6 642.5,747.2 644.1,748.6 645.7,747.2 647.3,748.6 648.9,747.2 650.5,748.6 652.1,747.2 653.7,748.6 655.3,747.2 656.9,748.6 658.5,747.2 660.1,748.6 661.7,747.2 663.3,748.6 664.9,747.2 666.5,748.6 668.1,747.2 669.7,748.6 671.3,747.2 672.9,748.6 674.5,747.2 676.1,748.6 677.7,747.2 679.3,748.6 680.9,747.2 682.5,748.6 684.1,747.2 685.7,748.6 687.3,747.2 688.9,748.6 690.5,747.2 692.1,748.6 693.7,747.2 695.3,748.6 696.9,747.2 698.5,748.6 700.1,747.2 701.7,748.6 703.3,747.2 704.9,748.6 706.5,747.2 708.1,748.6 709.7,747.2 711.3,748.6 712.9,747.2 714.5,748.6 716.1,747.2 717.7,748.6 719.3,747.2 720.9,748.6 722.5,747.2" fill="none" stroke="#e02020" stroke-width="0.9"/>
<text x="33.8" y="804.7" font-size="12.5" font-weight="bold" fill="#000" textLength="275.5" lengthAdjust="spacingAndGlyphs">IRAG= INFECCIÓN RESPIRATORIA AGUDA GRAVE</text>
<text x="755.3" y="806" font-size="12.2" font-weight="bold" fill="#000" textLength="687" lengthAdjust="spacingAndGlyphs"><tspan text-decoration="underline">Fuente</tspan>: Laboratorio Central de Salud Pública (LCSP)/Laboratorios Centros Centinelas/Laboratorios Regionales</text>
</svg></body></html>
